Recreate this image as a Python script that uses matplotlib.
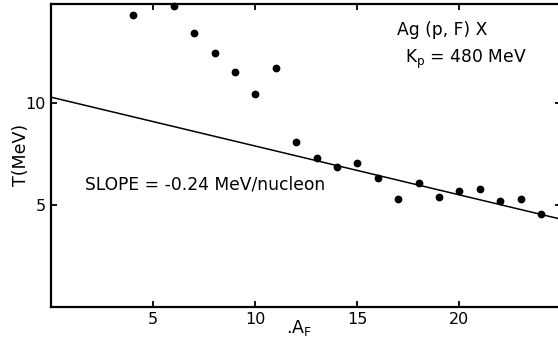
import matplotlib
matplotlib.use("Agg")
import matplotlib.pyplot as plt
import numpy as np

plt.rcParams['font.family'] = ['DejaVu Sans']
plt.rcParams['mathtext.default'] = 'regular'

# Data
A_F = [4, 6, 7, 8, 9, 10, 11, 12, 13, 14, 15, 16, 17, 18, 19, 20, 21, 22, 23, 24]
T_MeV = [14.33, 14.8, 13.46, 12.46, 11.55, 10.47, 11.75, 8.11, 7.30, 6.88,
         7.08, 6.33, 5.30, 6.10, 5.38, 5.70, 5.79, 5.20, 5.28, 4.56]
line_intercept = 10.3
line_slope = -0.24
x_ticks = [5, 10, 15, 20]
y_ticks = [5, 10]

W, H = 558, 346
fig = plt.figure(figsize=(W / 100, H / 100), dpi=100)
ax = fig.add_axes([51.3 / W, 39.3 / H, 510 / W, (307.7 - 4.7) / H])

ax.set_xlim(0, 25)
ax.set_ylim(0, 14.9)

xs = np.array([0, 25])
ax.plot(xs, line_intercept + line_slope * xs, color='black', lw=1.1)
ax.plot(A_F, T_MeV, 'o', color='black', ms=4.6, clip_on=False)

for s in ax.spines.values():
    s.set_linewidth(1.6)

ax.set_xticks(x_ticks)
ax.set_yticks(y_ticks)
ax.tick_params(direction='in', length=4.5, width=1.3, labelsize=11.5,
               top=True, right=True, pad=4)

fig.text(21 / W, 1 - 155 / H, 'T(MeV)', rotation=90, ha='center', va='center', fontsize=12.5)
fig.text(286 / W, 1 - 333 / H, '.A$_F$', ha='left', va='baseline', fontsize=12.5)

fig.text(397 / W, 1 - 35 / H, 'Ag (p, F) X', ha='left', va='baseline', fontsize=12.3)
fig.text(405 / W, 1 - 62.7 / H, 'K$_p$ = 480 MeV', ha='left', va='baseline', fontsize=12.3)
fig.text(85 / W, 1 - 189.3 / H, 'SLOPE = -0.24 MeV/nucleon', ha='left', va='baseline', fontsize=12.3)

fig.savefig('out.png', dpi=100)
